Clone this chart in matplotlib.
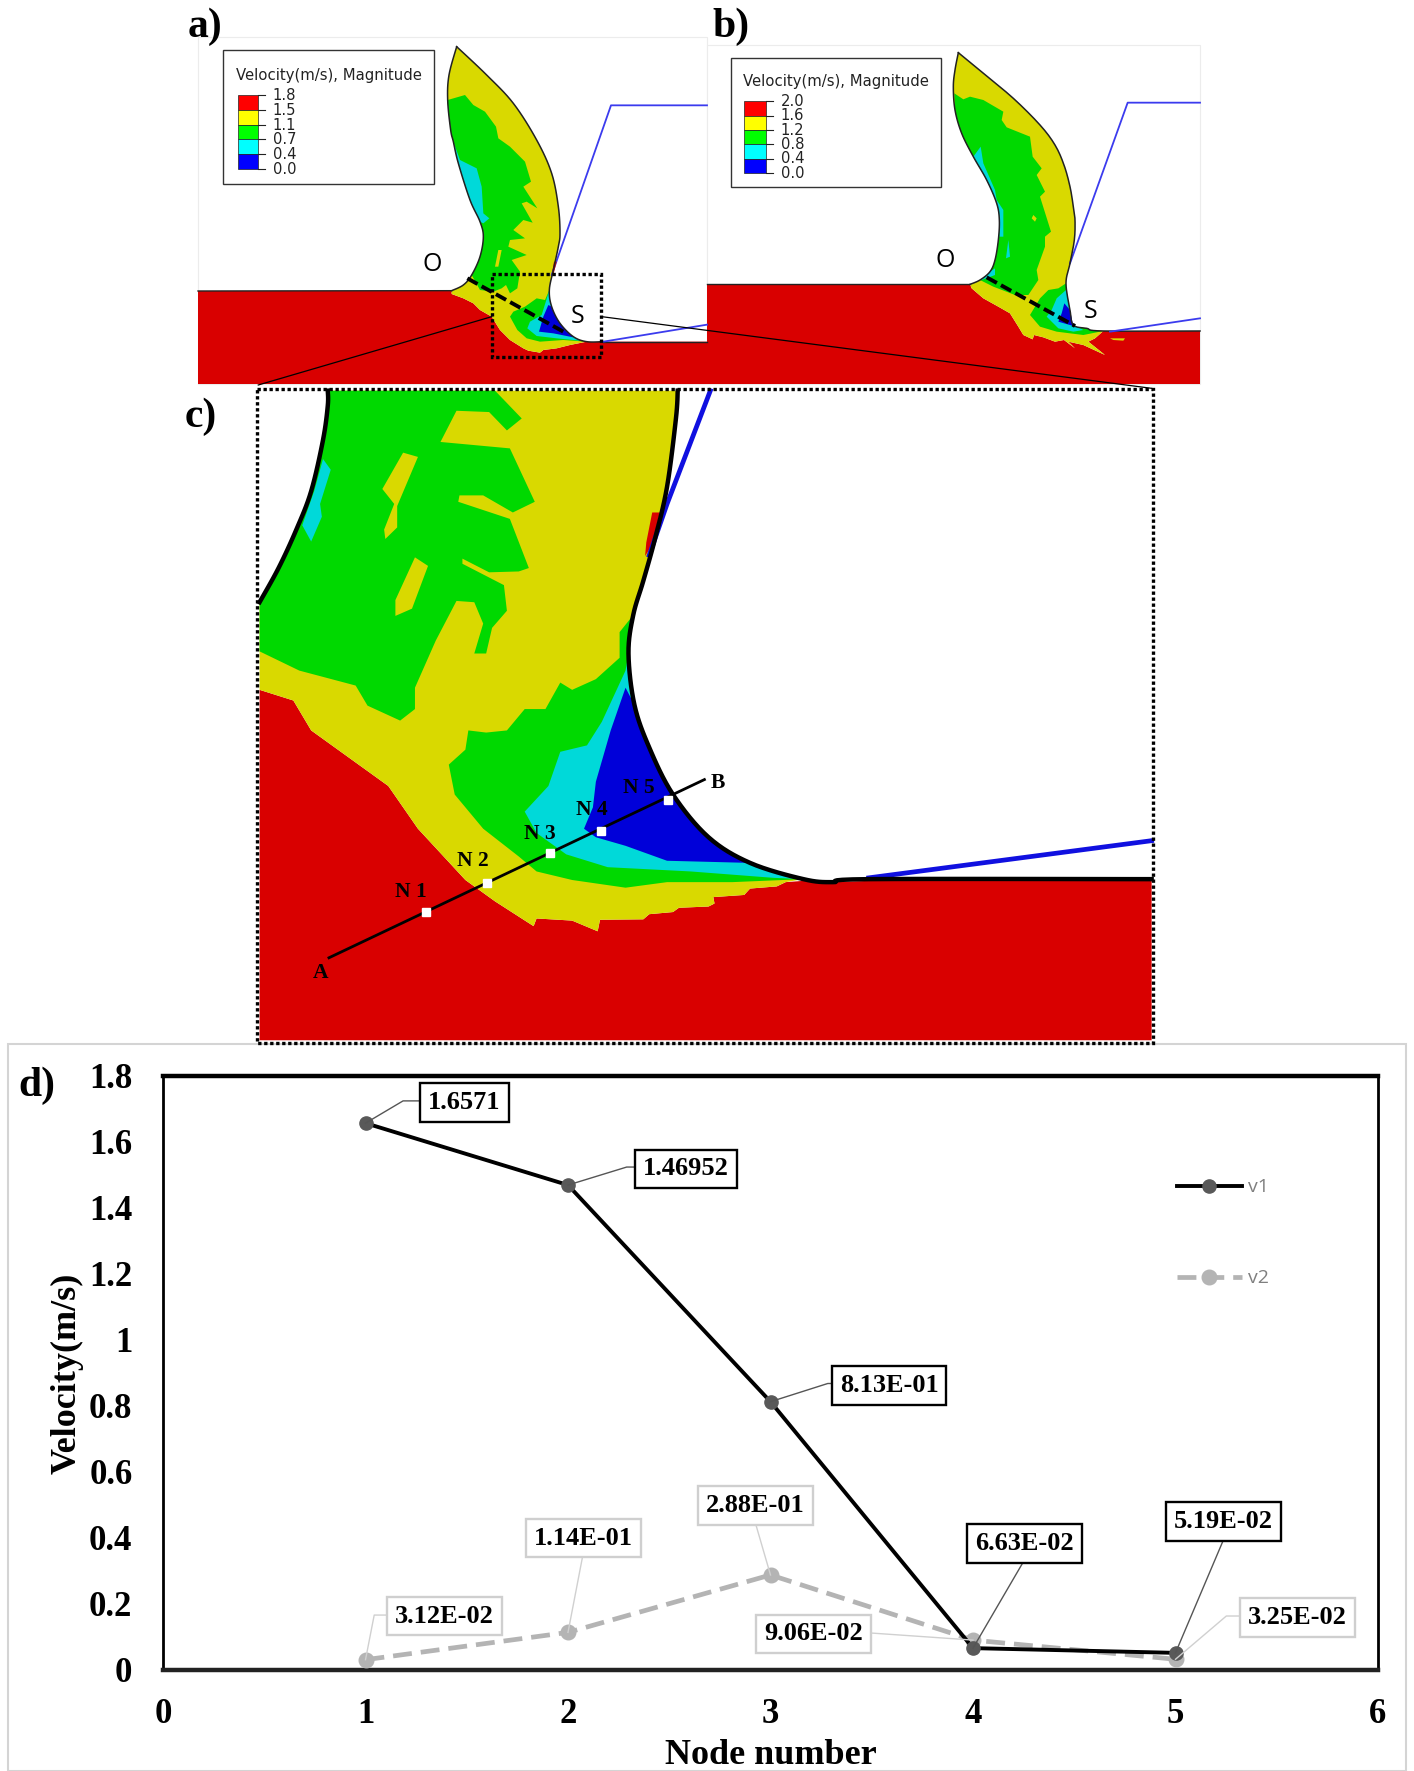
import matplotlib
matplotlib.use("Agg")
import matplotlib.pyplot as plt
from matplotlib.patches import Polygon, Rectangle

# ---------- chart d data ----------
node = [1, 2, 3, 4, 5]
v1 = [1.6571, 1.46952, 0.813, 0.0663, 0.0519]
v2 = [0.0312, 0.114, 0.288, 0.0906, 0.0325]
v1_labels = ["1.6571", "1.46952", "8.13E-01", "6.63E-02", "5.19E-02"]
v2_labels = ["3.12E-02", "1.14E-01", "2.88E-01", "9.06E-02", "3.25E-02"]
xticks = [0, 1, 2, 3, 4, 5, 6]
yticks = [0, 0.2, 0.4, 0.6, 0.8, 1, 1.2, 1.4, 1.6, 1.8]
ytick_labels = ["0", "0.2", "0.4", "0.6", "0.8", "1", "1.2", "1.4", "1.6", "1.8"]
legend_a = ["1.8", "1.5", "1.1", "0.7", "0.4", "0.0"]
legend_b = ["2.0", "1.6", "1.2", "0.8", "0.4", "0.0"]
legend_colors = ["#ff0000", "#ffff00", "#00ff00", "#00ffff", "#0000ff"]

RED, YEL, GRN, CYN, BLU = "#d90000", "#d9d900", "#00d900", "#00d9d9", "#0000d9"
SERIF = "Liberation Serif"

# ---------- panel a outlines ----------
a_left = [(80,20),(57,105),(53,180),(62,270),(70,305),(85,370),(120,480),(150,545),(160,590),(150,650),(125,705),(100,735),(65,752)]
a_right = [(80,20),(170,105),(250,190),(320,300),(365,400),(385,500),(390,580),(385,620),(370,690),(358,750),(365,800),(390,850),(430,890),(470,905),(520,905)]
a_low = [(65,752),(65,762),(100,775),(130,790),(150,810),(185,830),(210,870),(240,900),(280,925),(295,932),(330,938),(340,930),(380,925),(420,915),(470,905)]
a_green = [(53,180),(105,165),(130,195),(165,215),(198,260),(205,295),(240,320),(285,365),(303,425),(280,440),(322,505),(290,485),(275,490),(308,548),(280,540),(250,570),(285,595),(240,600),(235,620),(290,645),(245,660),(270,695),(262,745),(240,760),(228,735),(215,745),(190,755),(150,750),(125,705),(150,650),(160,590),(150,545),(120,480),(85,370),(70,305),(62,270)]
a_isl = [(205,630),(215,630),(205,680),(195,680)]
a_green2 = [(358,750),(345,780),(320,775),(285,800),(250,815),(240,830),(262,870),(290,895),(330,905),(400,900),(470,905),(430,890),(390,850),(365,800)]
a_cyan = [(70,305),(90,360),(140,385),(155,440),(160,520),(178,535),(160,550),(150,545),(120,480),(85,370)]
a_cyan2 = [(358,750),(352,770),(335,825),(300,845),(292,865),(320,888),(380,895),(450,902),(430,890),(390,850),(365,800)]
a_blue = [(365,800),(355,795),(340,830),(327,875),(370,880),(430,892),(390,850)]
a_redbit = [(372,665),(380,665),(370,705),(365,705)]

# ---------- panel b outlines ----------
b_left = [(55,38),(45,90),(40,140),(45,210),(65,280),(100,350),(140,420),(170,490),(178,540),(175,600),(165,660),(150,695),(120,720),(90,733)]
b_right = [(55,38),(130,100),(220,175),(300,255),(345,315),(372,375),(390,440),(400,500),(405,540),(403,600),(390,670),(378,730),(390,810),(400,855),(440,865),(490,873),(780,873)]
b_low = [(90,733),(95,745),(130,775),(175,800),(210,820),(235,860),(250,885),(278,898),(282,885),(310,892),(345,905),(372,900),(405,925),(385,905),(430,915),(495,945),(445,905),(465,895),(490,873)]
b_green = [(43,160),(70,178),(90,170),(130,180),(190,215),(185,240),(200,262),(270,290),(278,350),(305,385),(290,405),(315,455),(300,470),(333,575),(315,590),(315,620),(290,690),(295,720),(265,765),(225,765),(160,740),(120,720),(150,695),(165,660),(175,600),(178,540),(170,490),(140,420),(100,350),(65,280),(45,210)]
b_isl = [(280,525),(290,535),(285,545),(275,535)]
b_isl2 = [(510,895),(555,895),(550,902),(520,900)]
b_green2 = [(378,730),(355,745),(325,750),(300,775),(270,825),(300,860),(350,875),(430,885),(490,873),(440,865),(400,855),(390,810)]
b_cyan = [(122,320),(130,370),(165,450),(170,480),(190,510),(190,590),(178,590),(178,540),(170,490),(140,420),(100,350)]
b_cyan2 = [(378,750),(350,775),(335,810),(320,830),(355,865),(400,875),(430,870),(400,855),(390,810)]
b_cyan3 = [(150,695),(165,685),(165,705),(125,720),(120,720)]
b_cyan4 = [(205,600),(210,650),(198,655)]
b_blue = [(373,790),(365,820),(355,845),(400,858),(390,810)]

# ---------- panel c outlines ----------
c_left = [(148,25),(148,60),(140,140),(120,260),(95,350),(65,440),(33,520)]
c_right = [(738,25),(735,90),(720,250),(700,370),(680,470),(663,550),(655,640),(665,760),(690,860),(730,970),(790,1070),(860,1130),(950,1168),(1000,1175),(1060,1168),(1537,1168)]
c_front = [(33,725),(90,750),(120,820),(180,880),(250,950),(300,1050),(380,1170),(430,1220),(495,1278),(500,1260),(560,1265),(603,1290),(607,1263),(680,1262),(690,1250),(730,1245),(740,1235),(790,1232),(800,1225),(798,1210),(850,1205),(860,1190),(905,1185),(920,1175)]
c_red = c_front + [(950,1172),(1000,1175),(1060,1172),(1537,1172),(1537,1545),(33,1545)]
c_green = [(148,25),(430,25),(475,90),(450,118),(420,75),(365,72),(338,145),(455,160),(497,285),(460,310),(410,270),(370,270),(368,285),(455,325),(487,440),(470,448),(420,450),(375,418),(375,430),(445,480),(450,540),(425,580),(415,640),(395,640),(410,570),(395,520),(365,517),(330,610),(295,720),(295,770),(270,797),(215,762),(195,715),(100,680),(33,635),(33,520),(65,440),(95,350),(120,260),(140,140),(148,60)]
c_isl1 = [(275,170),(300,180),(265,295),(265,345),(245,372),(243,350),(260,290),(240,255)]
c_isl2 = [(295,415),(317,435),(290,535),(262,552),(262,515)]
c_green2 = [(663,550),(640,590),(640,650),(600,700),(560,725),(540,708),(515,770),(480,770),(450,820),(415,825),(385,820),(380,865),(352,900),(362,970),(410,1050),(470,1115),(500,1150),(560,1170),(650,1188),(720,1175),(830,1175),(950,1168),(860,1130),(790,1070),(730,970),(690,860),(665,760),(655,640)]
c_cyan = [(655,640),(650,680),(610,800),(585,855),(540,870),(520,950),(480,1010),(500,1060),(550,1110),(620,1140),(760,1150),(900,1165),(950,1168),(860,1130),(790,1070),(730,970),(690,860),(665,760)]
c_blue = [(665,760),(650,720),(625,820),(600,940),(595,1000),(580,1050),(600,1070),(650,1090),(720,1125),(860,1130),(790,1070),(730,970),(690,860)]
c_cyan2 = [(140,185),(153,210),(135,290),(138,320),(120,378),(105,340),(125,260)]
c_redbit = [(695,310),(708,310),(695,385),(683,412),(685,380)]
c_nodes = [(314,1246),(417,1177),(522,1107),(608,1056),(722,982)]
c_node_labels = [("N 1",288,1197),("N 2",393,1125),("N 3",505,1062),("N 4",593,1007),("N 5",673,955),("A",135,1387),("B",806,943)]

A = lambda p: (180 + p[0] / 1.5077, p[1] / 3.0)
Pa = lambda p: (430 + p[0] / 3.0, 40 + p[1] / 3.0)
Pb = lambda p: (940 + p[0] / 3.0, 40 + p[1] / 3.0)
C = lambda p: (240 + p[0] / 1.686, 380 + p[1] / 2.34)
D = lambda p: (p[0] / 1.109, 1030 + p[1] / 2.116)

# rounded outline segments, looked up when a fill shares an edge with the outline
segs = {}
def smooth(pts, n=8):
    out = [pts[0]]
    for i in range(len(pts) - 1):
        p0 = pts[max(i - 1, 0)]; p1 = pts[i]; p2 = pts[i + 1]; p3 = pts[min(i + 2, len(pts) - 1)]
        seg = []
        for k in range(1, n + 1):
            t = k / n
            seg.append(tuple(0.5 * (2*p1[j] + (p2[j]-p0[j])*t + (2*p0[j]-5*p1[j]+4*p2[j]-p3[j])*t*t
                                    + (3*p1[j]-p0[j]-3*p2[j]+p3[j])*t**3) for j in (0, 1)))
        segs[(p1, p2)] = seg
        segs[(p2, p1)] = seg[-2::-1] + [p1]
        out += seg
    return out

fig = plt.figure(figsize=(14.14, 17.71), dpi=100, facecolor="white")
ov = fig.add_axes([0, 0, 1, 1], zorder=1)
ov.set_xlim(0, 1414); ov.set_ylim(1771, 0); ov.axis("off"); ov.patch.set_alpha(0)

def expand(pts):
    out = []
    n = len(pts)
    for i in range(n):
        p, q = pts[i], pts[(i + 1) % n]
        out.append(p)
        if (p, q) in segs:
            out += segs[(p, q)][:-1]
    return out

def poly(pts, color, m, z=2):
    ov.add_patch(Polygon([m(p) for p in expand(pts)], closed=True, fc=color, ec="none", lw=0, zorder=z))

def line(pts, m, color="k", lw=1.0, z=5, **kw):
    q = [m(p) for p in pts]
    ov.plot([a for a, _ in q], [b for _, b in q], color=color, lw=lw, zorder=z, **kw)

def rect(x0, y0, x1, y1, m, **kw):
    p0, p1 = m((x0, y0)), m((x1, y1))
    ov.add_patch(Rectangle(p0, p1[0]-p0[0], p1[1]-p0[1], **kw))

a_left_s = smooth(a_left); a_right_s = smooth(a_right)
b_left_s = smooth(b_left); b_right_s = smooth(b_right)
c_left_s = smooth(c_left); c_right_s = smooth(c_right)

# panel backgrounds
rect(27, 110, 795, 1152, A, fc="white", ec="#ececec", lw=0.8, zorder=1)
rect(795, 135, 1538, 1152, A, fc="white", ec="#ececec", lw=0.8, zorder=1)

# panel a
poly([(-696,753)] + a_low + [(520,905),(831,905),(831,1032),(-696,1032)], RED, Pa)
poly(a_left + a_low[1:] + a_right[-2::-1][:-1], YEL, Pa, 3)
poly(a_green, GRN, Pa, 4); poly(a_isl, YEL, Pa, 5)
poly(a_green2, GRN, Pa, 5)
poly(a_cyan, CYN, Pa, 5); poly(a_cyan2, CYN, Pa, 6); poly(a_blue, BLU, Pa, 7)
poly(a_redbit, RED, Pa, 5)
line(a_left_s, Pa, color="#222222", lw=1.1, z=8); line(a_right_s, Pa, color="#222222", lw=1.1, z=8)
line([(-696,753),(65,752)], Pa, color="#222222", lw=1.0, z=8)
line([(520,905),(831,905)], Pa, color="#222222", lw=1.0, z=8)
line([(365,705),(543,196),(831,196)], Pa, color="#3b3bee", lw=1.3, z=3)
line([(520,905),(831,854)], Pa, color="#3b3bee", lw=1.3, z=8)
line([(112,715),(400,875)], Pa, lw=2.8, z=9, ls=(0, (3, 1.2)))

# panel b
poly([(-699,733)] + b_low + [(780,873),(780,1032),(-699,1032)], RED, Pb)
poly(b_left + b_low[1:] + b_right[-3::-1][:-1], YEL, Pb, 3)
poly(b_isl2, YEL, Pb, 3)
poly(b_green, GRN, Pb, 4); poly(b_isl, YEL, Pb, 5)
poly(b_green2, GRN, Pb, 5)
poly(b_cyan, CYN, Pb, 5); poly(b_cyan2, CYN, Pb, 6); poly(b_cyan3, CYN, Pb, 6); poly(b_cyan4, CYN, Pb, 6)
poly(b_blue, BLU, Pb, 7)
line(b_left_s, Pb, color="#222222", lw=1.1, z=8); line(b_right_s, Pb, color="#222222", lw=1.1, z=8)
line([(-699,733),(90,733)], Pb, color="#222222", lw=1.0, z=8)
line([(390,670),(563,188),(780,188)], Pb, color="#3b3bee", lw=1.3, z=3)
line([(510,875),(780,835)], Pb, color="#3b3bee", lw=1.3, z=8)
line([(140,712),(405,858)], Pb, lw=2.8, z=9, ls=(0, (3, 1.2)))

# legends in a and b
def fem_legend(box, bar, ys, labels, title_y):
    rect(box[0], box[1], box[2], box[3], A, fc="white", ec="#333333", lw=1.0, zorder=9)
    xt, yt = A(((box[0]+box[2])/2, title_y))
    ov.text(xt, yt, "Velocity(m/s), Magnitude", fontsize=10.7, family="DejaVu Sans",
            ha="center", va="center", zorder=10, color="#222222")
    for i, c in enumerate(legend_colors):
        rect(bar[0], ys[i], bar[1], ys[i+1], A, fc=c, ec="#222222", lw=0.5, zorder=10)
    for y, s in zip(ys, labels):
        line([(bar[1], y), (bar[1]+10, y)], A, color="#222222", lw=0.8, z=10)
        xl, yl = A((bar[1]+22, y))
        ov.text(xl, yl, s, fontsize=10.6, family="DejaVu Sans", ha="left", va="center",
                zorder=10, color="#222222")

fem_legend((65,150,383,552), (87,118), [285,331,375,418,463,507], legend_a, 225)
fem_legend((830,173,1148,562), (851,884), [303,347,390,433,476,520], legend_b, 245)

for s, x, y in [("O",380,792),("S",600,950),("O",1154,780),("S",1373,935)]:
    xa, ya = A((x, y))
    ov.text(xa, ya, s, fontsize=18, family="Open Sans", ha="center", va="center", zorder=9)

# dotted zoom box and connector lines
rect(470, 822, 635, 1070, A, fc="none", ec="k", lw=2.4, ls=(0, (1, 0.8)), zorder=10)
line([(470,950),(118,1155)], A, lw=0.9, z=8)
line([(636,950),(1465,1165)], A, lw=0.9, z=8)

# panel c
poly(c_red, RED, C, 3)
poly(c_left + c_front + [(950,1168)] + c_right[-5::-1], YEL, C, 3)
poly(c_green, GRN, C, 4)
poly(c_isl1, YEL, C, 5); poly(c_isl2, YEL, C, 5)
poly(c_green2, GRN, C, 5); poly(c_cyan, CYN, C, 6); poly(c_blue, BLU, C, 7)
poly(c_cyan2, CYN, C, 5); poly(c_redbit, RED, C, 5)
line([(793,25),(720,290),(690,410)], C, color="#1010e0", lw=3.4, z=6)
line([(1060,1165),(1537,1078)], C, color="#1010e0", lw=3.4, z=8)
line(c_left_s, C, lw=3.2, z=8); line(c_right_s, C, lw=3.2, z=8)
line([(150,1352),(783,935)], C, lw=2.0, z=9)
for p in c_nodes:
    x, y = C(p)
    ov.plot(x, y, "s", ms=5.5, mfc="white", mec="white", zorder=10)
for s, x, y in c_node_labels:
    xa, ya = C((x, y))
    ov.text(xa, ya, s, fontsize=15.5, family=SERIF, weight="bold", ha="center", va="center", zorder=11)
rect(28, 20, 1540, 1552, C, fc="none", ec="k", lw=2.4, ls=(0, (1, 0.8)), zorder=12)

# panel letters
ov.text(188, 27, "a)", fontsize=30, family=SERIF, weight="bold", ha="left", va="center", zorder=12)
ov.text(712, 27, "b)", fontsize=30, family=SERIF, weight="bold", ha="left", va="center", zorder=12)
ov.text(185, 417, "c)", fontsize=30, family=SERIF, weight="bold", ha="left", va="center", zorder=13)
ov.text(18, 1086, "d)", fontsize=30, family=SERIF, weight="bold", ha="left", va="center", zorder=12)

# ---------- chart d ----------
ov.add_patch(Rectangle((8, 1044), 1398, 727, fc="none", ec="#d4d4d4", lw=1.5, zorder=0))
L, R, T, B = 163, 1378, 1076, 1670
ax = fig.add_axes([L/1414, 1-B/1771, (R-L)/1414, (B-T)/1771], zorder=0.5)
ax.set_xlim(0, 6); ax.set_ylim(0, 1.8)
ax.patch.set_alpha(0)
ax.plot(node, v1, color="k", lw=2.8, marker="o", ms=9.5, mfc="#595959", mec="#595959", label="v1", zorder=4)
ax.plot(node, v2, color="#b4b4b4", lw=3.4, ls=(0, (4, 1.9)), marker="o", ms=10.5, mfc="#b4b4b4", mec="#b4b4b4", label="v2", zorder=3)
ax.set_xticks(xticks); ax.set_yticks(yticks); ax.set_yticklabels(ytick_labels)
ax.tick_params(axis="x", length=0, pad=20, labelsize=25)
ax.tick_params(axis="y", length=0, pad=22, labelsize=25)
for t in ax.get_xticklabels() + ax.get_yticklabels():
    t.set_family(SERIF); t.set_weight("bold")
ax.set_xlabel("Node number", fontsize=26, family=SERIF, weight="bold", labelpad=6)
ax.set_ylabel("Velocity(m/s)", fontsize=26, family=SERIF, weight="bold", labelpad=4)
ax.spines["top"].set_linewidth(3.2)
ax.spines["bottom"].set_linewidth(3.2)
ax.spines["bottom"].set_color("#222222")
ax.spines["left"].set_linewidth(2.0)
ax.spines["right"].set_linewidth(2.0)
ax.legend(loc="upper left", bbox_to_anchor=(0.82, 0.857), frameon=False,
          handlelength=3.35, labelspacing=3.75, handletextpad=0.3, labelcolor="#7f7f7f",
          prop={"family": "Open Sans", "size": 14})

def to_ov(x, y):
    return ov.transData.inverted().transform(ax.transData.transform((x, y)))

v1_boxes = [(515,154),(761,294),(986,753),(1136,1086),(1357,1040)]
v2_boxes = [(493,1240),(647,1075),(838,1007),(902,1278),(1439,1244)]
v1_lead = [[(447,150),(465,150)],[(695,290),(705,290)],[(918,748),(923,748)],[(1135,1125)],[(1357,1078)]]
v2_lead = [[(415,1238),(430,1238)],[(646,1115)],[(838,1045)],[(966,1276)],[(1360,1240),(1375,1240)]]

def boxes(xs, ys, labs, pos, lead, col, lcol):
    for x, y, s, p, ld in zip(xs, ys, labs, pos, lead):
        q0 = to_ov(x, y)
        q = [tuple(q0)] + [D(k) for k in ld]
        ov.plot([a for a, _ in q], [b for _, b in q], color=lcol, lw=1.0, zorder=3)
        cx, cy = D(p)
        ov.text(cx, cy, s, fontsize=19, family=SERIF, weight="bold", ha="center", va="center", zorder=4,
                bbox=dict(boxstyle="square,pad=0.3", fc="white", ec=col, lw=1.7))

boxes(node, v1, v1_labels, v1_boxes, v1_lead, "k", "#555555")
boxes(node, v2, v2_labels, v2_boxes, v2_lead, "#cfcfcf", "#d0d0d0")

fig.savefig("out.png", dpi=100)
